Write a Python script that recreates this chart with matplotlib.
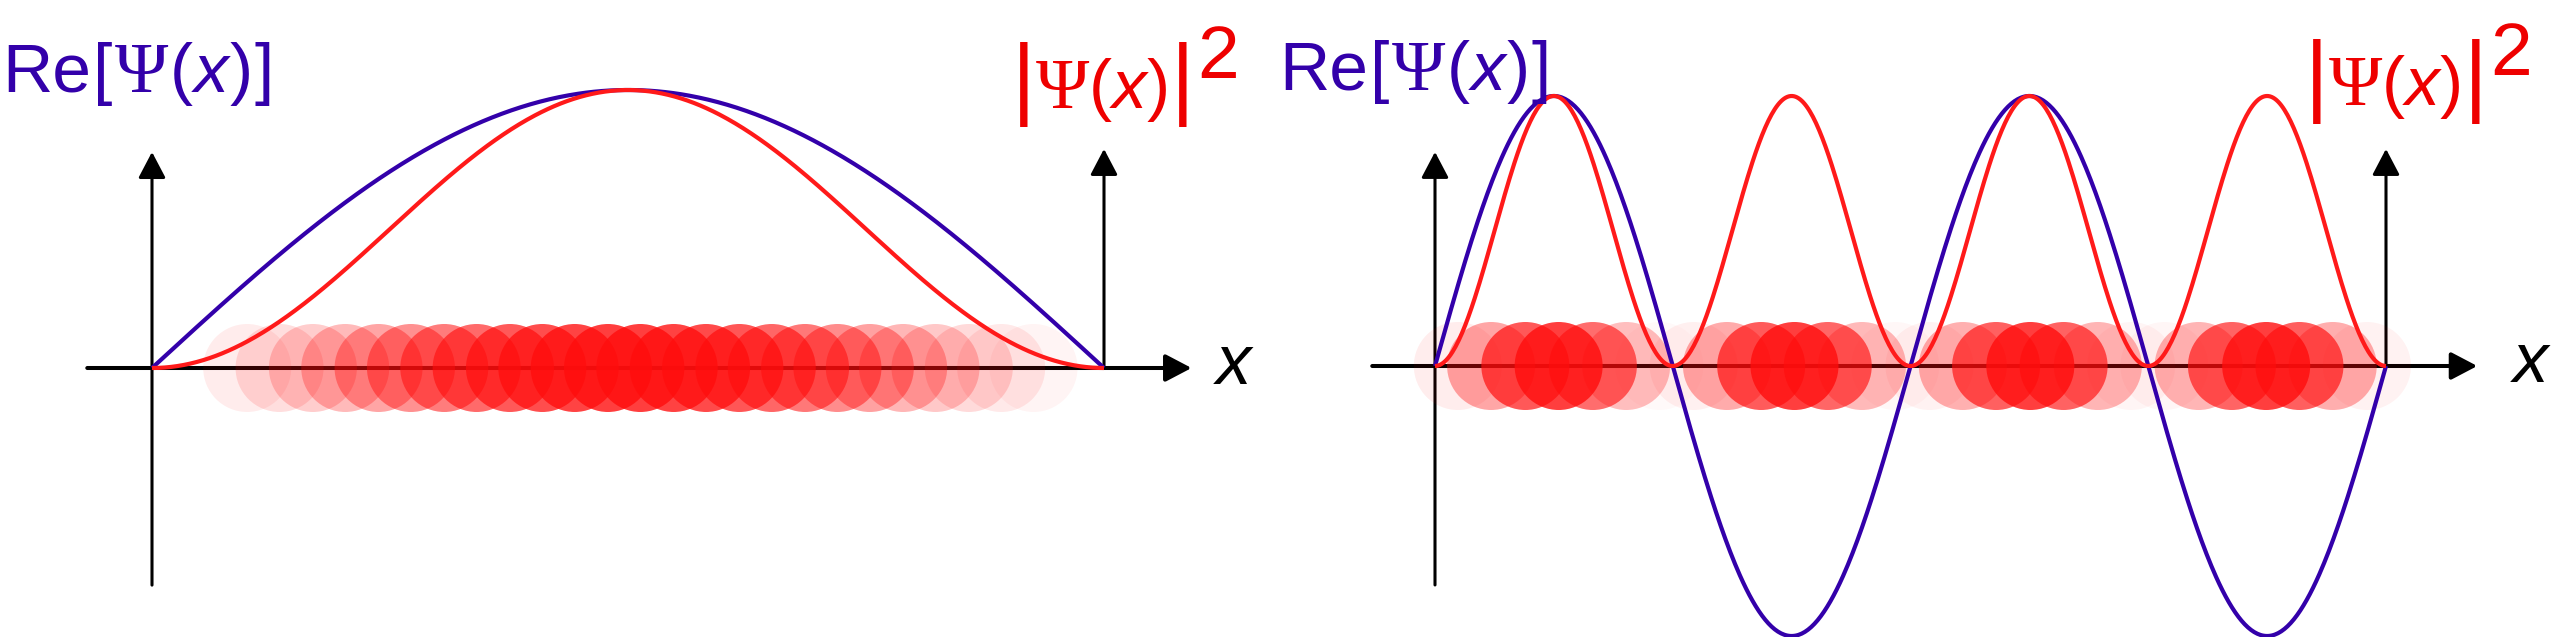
import numpy as np
import matplotlib
matplotlib.use("Agg")
import matplotlib.pyplot as plt

# quantum numbers of the two panels
n_left = 1
n_right = 4

# positions (in box lengths) of the shaded "particle" circles
blobs_left = [0.100, 0.134, 0.169, 0.203, 0.238, 0.272, 0.307, 0.341, 0.376,
              0.410, 0.444, 0.479, 0.513, 0.548, 0.582, 0.617, 0.651, 0.686,
              0.720, 0.754, 0.789, 0.823, 0.858, 0.892, 0.926]
blobs_right = [0.024, 0.059, 0.095, 0.130, 0.166, 0.201, 0.236, 0.272, 0.307,
               0.343, 0.378, 0.413, 0.449, 0.484, 0.520, 0.555, 0.590, 0.626,
               0.661, 0.697, 0.732, 0.767, 0.803, 0.838, 0.874, 0.909, 0.944,
               0.980]

label_axis = 'x'

BLUE = '#3300aa'
RED = '#ff1a1a'
RED_TXT = '#ee0000'

plt.rcParams['font.family'] = ['Liberation Sans', 'DejaVu Sans']

W, H = 2560, 637
fig = plt.figure(figsize=(W / 100, H / 100), dpi=100)

SANS = dict(family='Liberation Sans')
SERIF = dict(family='Liberation Serif')
ITAL = dict(family='Liberation Sans', style='italic')

# label pieces: text, size, font, gap before (px), vertical shift (px)
label_re = [('Re', 50, SANS, 0, 0), ('[', 50, SANS, 2, 0), ('\u03a8', 52, SERIF, 2, 0),
            ('(', 50, SANS, 2, 0), ('x', 50, ITAL, 1, 0), (')', 50, SANS, 1, 0),
            (']', 50, SANS, 2, 0)]
label_prob = [('|', 65, SANS, 0, 0), ('\u03a8', 52, SERIF, 0, 0), ('(', 50, SANS, 0, 0),
              ('x', 50, ITAL, 0, 0), (')', 50, SANS, 0, 0), ('|', 65, SANS, 1, 0),
              ('2', 54, SANS, 3, -30)]


def put_row(x_px, base_px, pieces, color):
    r = fig.canvas.get_renderer()
    for s, size, font, gap, dy in pieces:
        x_px += gap
        t = fig.text(x_px / W, 1 - (base_px + dy) / H, s, fontsize=size,
                     color=color, ha='left', va='baseline', **font)
        x_px += t.get_window_extent(r).width


def panel(x0_px, origin_px, wall_px, base_px, amp_px, n, blobs,
          yaxis_bot, yaxis_top, wall_top, xaxis_l, xaxis_r, xlab_x, xlab_y):
    ax = fig.add_axes([x0_px / W, 0, 0.5, 1])
    unit = wall_px - origin_px
    ax.set_xlim((x0_px - origin_px) / unit, (x0_px + W / 2 - origin_px) / unit)
    ax.set_ylim(-(H - base_px) / amp_px, base_px / amp_px)
    ax.axis('off')

    arrow = dict(arrowstyle='-|>,head_length=0.8,head_width=0.42',
                 mutation_scale=20, color='k', shrinkA=0, shrinkB=0)
    ax.annotate('', xy=(xaxis_r, 0), xytext=(xaxis_l, 0),
                arrowprops=dict(arrow, lw=2.9), zorder=1)
    ax.annotate('', xy=(0, yaxis_top), xytext=(0, yaxis_bot),
                arrowprops=dict(arrow, lw=2.2), zorder=1)
    ax.annotate('', xy=(1, wall_top), xytext=(1, 0),
                arrowprops=dict(arrow, lw=2.2), zorder=1)
    ax.text(xlab_x, xlab_y, label_axis, fontsize=51, style='italic',
            ha='left', va='baseline')

    # shaded circles, opacity follows |psi|^2
    bx = np.array(blobs)
    alphas = 0.8 * np.sin(n * np.pi * bx) ** 2
    ax.scatter(bx, np.zeros_like(bx), s=(88 * 0.72) ** 2, color=(1, 0.05, 0.05),
               alpha=alphas, linewidths=0, zorder=2)

    x = np.linspace(0, 1, 600)
    psi = np.sin(n * np.pi * x)
    ax.plot(x, psi, color=BLUE, lw=3.0, zorder=3, solid_capstyle='butt')
    ax.plot(x, psi ** 2, color=RED, lw=3.0, zorder=4, solid_capstyle='butt')
    return ax


axl = panel(0, 152, 1104, 368, 278, n_left, blobs_left,
            -0.781, 0.777, 0.788, -0.068, 1.092, 1.118, -0.058)
axr = panel(1280, 1435, 2386, 366, 270, n_right, blobs_right,
            -0.811, 0.793, 0.804, -0.066, 1.096, 1.133, -0.060)

# panel labels
put_row(2, 92, label_re, BLUE)
put_row(1012, 108, label_prob, RED_TXT)
put_row(1279, 90, label_re, BLUE)
put_row(2305, 105, label_prob, RED_TXT)

fig.savefig('out.png', dpi=100)
